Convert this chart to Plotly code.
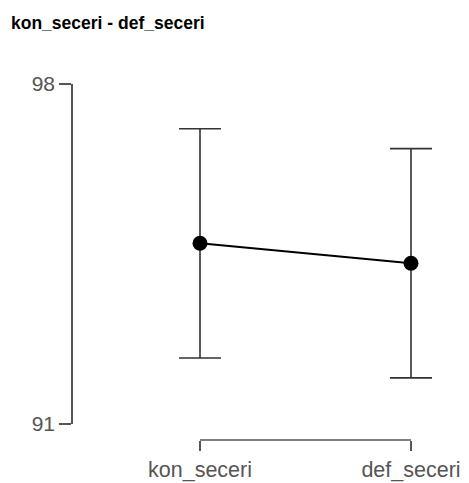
import plotly.graph_objects as go

categories = ["kon_seceri", "def_seceri"]
means = [94.72, 94.31]
ci_half = [2.36, 2.36]
y_ticks = [91, 98]
title_text = "kon_seceri - def_seceri"

OFF = 8  # page body margin
W, H = 469 - OFF, 483 - OFF

def px_x(p):
    return (p - OFF) / W

def px_y(p):
    return (H - (p - OFF)) / H

dom_l, dom_r = 100, 465
cat0_px, cat1_px = 200, 411
unit = cat1_px - cat0_px
xr = [(dom_l - cat0_px) / unit, 1 + (dom_r - cat1_px) / unit]
axis_y = px_y(440)

fig = go.Figure()
fig.add_trace(go.Scatter(
    x=categories, y=means, mode="lines+markers",
    line=dict(color="black", width=2),
    marker=dict(color="black", size=15),
    error_y=dict(type="data", array=ci_half, visible=True,
                 color="#333333", thickness=1.6, width=21),
    cliponaxis=False, showlegend=False, hoverinfo="skip",
))

axis_col = "#555555"
x_font = dict(family="Liberation Sans, Arial, sans-serif", size=21.5, color="#555555")
y_font = dict(family="Liberation Sans, Arial, sans-serif", size=21, color="#555555")

# bracket spanning first to last category, on the x axis line position
fig.add_shape(type="line", xref="x", yref="paper",
              x0=0, x1=len(categories) - 1, y0=axis_y, y1=axis_y,
              line=dict(color=axis_col, width=1.5), layer="below")

fig.update_layout(
    template="none",
    width=W, height=H,
    margin=dict(l=0, r=0, t=0, b=0, pad=0),
    paper_bgcolor="white", plot_bgcolor="rgba(0,0,0,0)",
    xaxis=dict(domain=[px_x(dom_l), px_x(dom_r)], type="category",
               range=xr, anchor="free", position=axis_y,
               showline=False, ticks="outside", ticklen=10, tickwidth=1.5,
               tickcolor=axis_col, tickfont=x_font, showgrid=False,
               zeroline=False, automargin=False, fixedrange=True,
               ticklabelstandoff=0),
    yaxis=dict(domain=[px_y(424), px_y(84)], range=[y_ticks[0], y_ticks[-1]],
               anchor="free", position=px_x(72),
               tickvals=y_ticks, ticks="outside", ticklen=12, tickwidth=1.5,
               tickcolor=axis_col, showline=True, linecolor=axis_col,
               linewidth=1.5, tickfont=y_font, showgrid=False,
               zeroline=False, automargin=False, fixedrange=True),
    annotations=[dict(text="<b>" + title_text + "</b>", xref="paper", yref="paper",
                      x=px_x(9), y=px_y(23), xanchor="left", yanchor="middle",
                      showarrow=False,
                      font=dict(family="Liberation Sans, Arial, sans-serif",
                                size=17.5, color="black"))],
)

fig.write_html("out.html")
